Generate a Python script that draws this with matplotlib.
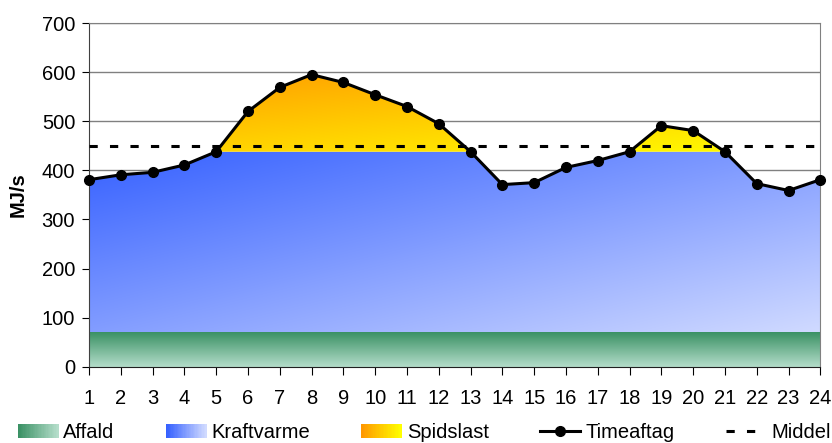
import numpy as np
import matplotlib
matplotlib.use("Agg")
import matplotlib.pyplot as plt
from matplotlib.colors import LinearSegmentedColormap
from matplotlib.legend_handler import HandlerBase
from matplotlib.patches import Rectangle
from matplotlib.lines import Line2D

plt.rcParams['font.family'] = ['Liberation Sans', 'DejaVu Sans']

# data
hours = np.arange(1, 25)
timeaftag = [381, 391, 396, 411, 438, 520, 569, 595, 579, 554, 530, 495,
             438, 371, 375, 406, 420, 438, 491, 481, 438, 373, 359, 381]
affald = 70
kraftvarme_cap = 438
middel = 450

col_affald = ("#3a9164", "#b4ddca")
col_kraft = ("#3560ff", "#d0daff")
col_spids = ("#ff9800", "#ffff00")


def gradient_fill(ax, x, y1, y2, colors, diagonal=True, zorder=1):
    poly = ax.fill_between(x, y1, y2, color='none', lw=0)
    path = poly.get_paths()[0]
    ext = path.get_extents()
    n = 256
    u = np.linspace(0, 1, n)[None, :]
    v = np.linspace(0, 1, n)[:, None]
    t = (u + v) / 2 if diagonal else v * np.ones_like(u)
    cmap = LinearSegmentedColormap.from_list("g", list(colors))
    im = ax.imshow(t, cmap=cmap, vmin=0, vmax=1, origin='upper', aspect='auto',
                   extent=[ext.x0, ext.x1, ext.y0, ext.y1], zorder=zorder,
                   interpolation='bilinear')
    im.set_clip_path(path, ax.transData)
    return im


class GradientHandler(HandlerBase):
    def __init__(self, colors):
        super().__init__()
        self.cmap = LinearSegmentedColormap.from_list("h", list(colors))

    def create_artists(self, legend, orig_handle, xdescent, ydescent,
                       width, height, fontsize, trans):
        n = 30
        arts = []
        for i in range(n):
            r = Rectangle((-xdescent + width * i / n, -ydescent), width / n + 0.3, height,
                          facecolor=self.cmap(i / (n - 1)), edgecolor='none',
                          transform=trans)
            arts.append(r)
        return arts


fig = plt.figure(figsize=(8.32, 4.43), dpi=100)
ax = fig.add_axes([0.107, 0.172, 0.879, 0.776])

load = np.array(timeaftag, dtype=float)
gradient_fill(ax, hours, 0, affald, col_affald, diagonal=False, zorder=1)
gradient_fill(ax, hours, affald, np.minimum(load, kraftvarme_cap), col_kraft, zorder=1)
gradient_fill(ax, hours, kraftvarme_cap, np.maximum(load, kraftvarme_cap), col_spids, zorder=1)

ax.axhline(middel, color='black', lw=2.2, linestyle=(0, (2.7, 4)), zorder=3)
ax.plot(hours, load, color='black', lw=2.2, marker='o', markersize=7, zorder=4,
        clip_on=False)

ax.set_xlim(1, 24)
ax.set_ylim(0, 700)
ax.set_xticks(hours)
ax.set_yticks(range(0, 701, 100))
ax.yaxis.grid(True, color='#808080', lw=1)
ax.set_axisbelow(True)
for s in ['top', 'right']:
    ax.spines[s].set_color('#808080')
ax.spines['left'].set_color('#404040')
ax.spines['bottom'].set_color('#202020')
ax.tick_params(axis='x', length=6, pad=10, labelsize=14.5, direction='out')
ax.tick_params(axis='y', length=5, pad=5, labelsize=14.5, direction='out')
ax.set_ylabel('MJ/s', fontsize=14.5, fontweight='bold', labelpad=10)

handles = [Rectangle((0, 0), 1, 1), Rectangle((0, 0), 1, 1), Rectangle((0, 0), 1, 1),
           Line2D([], [], color='black', lw=2.2, marker='o', markersize=7),
           Line2D([], [], color='black', lw=2.2, linestyle=(0, (2.7, 4)))]
labels = ['Affald', 'Kraftvarme', 'Spidslast', 'Timeaftag', 'Middel']
hmap = {handles[0]: GradientHandler(col_affald),
        handles[1]: GradientHandler(col_kraft),
        handles[2]: GradientHandler(col_spids)}
fig.legend(handles, labels, handler_map=hmap, loc='center', bbox_to_anchor=(0.51, 0.024),
           ncol=5, frameon=False, fontsize=14.5, handlelength=2.0, handleheight=0.65,
           handletextpad=0.25, columnspacing=2.55, borderaxespad=0)

fig.savefig("out.png", dpi=100)
